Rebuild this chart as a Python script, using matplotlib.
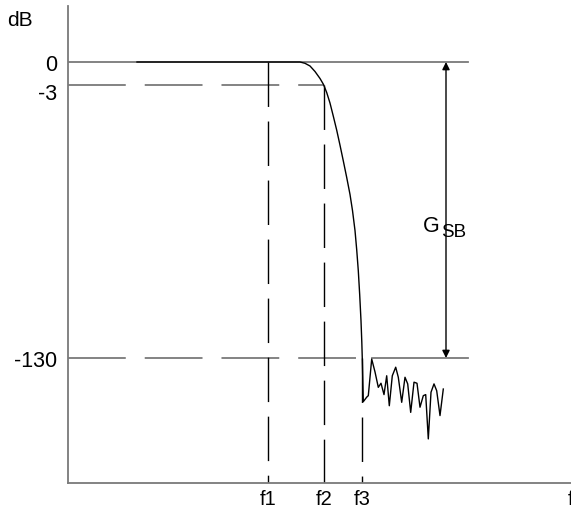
import numpy as np
import matplotlib
matplotlib.use("Agg")
import matplotlib.pyplot as plt
from matplotlib.scale import FuncScale
import matplotlib.transforms as mtransforms

plt.rcParams['font.family'] = ['Liberation Sans', 'DejaVu Sans']

# ---- data (schematic filter response) ----
level_labels = ["0", "-3", "-130"]
levels_db = [0, -3, -130]
freq_labels = ["f1", "f2", "f3", "f"]
f1, f2, f3, f_end = 200, 256, 294.5, 503

# passband -> transition -> stopband (dB)
curve_f = [69, 232, 237, 242, 247, 252, 255.5, 258.7, 262, 265.3, 268.7, 272, 275.3,
           278.7, 282, 284.5, 287, 288.7, 290.3, 291.7, 293, 293.8, 294.3, 294.8, 295.3]
curve_db = [0, 0, -0.17, -0.52, -1.24, -2.15, -2.93, -6.5, -11.4, -17.5, -24.0, -31.0,
            -38.3, -46.0, -53.9, -61.4, -70.7, -79.6, -89.4, -100.6, -112.7, -122.5,
            -130.5, -140.3, -150.4]
# stopband ripple / noise (dB)
noise_f = [298.7, 300.3, 303.7, 307, 310.3, 313, 316, 318.7, 321.3, 324.3, 327.7,
           330.3, 333.7, 337, 339.7, 342.7, 346, 349, 352, 355.3, 357.7, 360.3, 363,
           366, 368.7, 372, 375.3]
noise_db = [-148.3, -147.6, -130.5, -136.5, -143.7, -141.8, -147.1, -138.3, -152.3,
            -138.3, -134.3, -139, -150.7, -139, -142.1, -155.4, -141.3, -141.8, -153,
            -147.6, -147.1, -167.8, -146, -142.1, -145.3, -156.9, -144.5]
gsb_x = 378
ref_end = 400

# ---- nonlinear schematic y-scale (piecewise linear) ----
y_db_bp = [-188.4, -130, -3, 0, 7.3]
y_pos_bp = [0, 125, 398, 421, 477]

def fwd(v):
    return np.interp(v, y_db_bp, y_pos_bp, left=-1e3, right=1e3)

def inv(v):
    return np.interp(v, y_pos_bp, y_db_bp)

W, H = 571, 510
fig = plt.figure(figsize=(W / 100, H / 100), dpi=100)
ax = fig.add_axes([68 / W, 26 / H, (W - 68) / W, (484 - 7) / H])
ax.set_yscale(FuncScale(ax, (fwd, inv)))
ax.set_xlim(0, f_end)
ax.set_ylim(y_db_bp[0], y_db_bp[-1])

gray = '#7a7a7a'
dash = (0, (32, 10.5))

# reference lines
ax.plot([0, ref_end], [0, 0], color=gray, lw=1.3, zorder=1)
ax.plot([0, f2], [-3, -3], color=gray, lw=1.3, linestyle=dash, zorder=1)
ax.plot([0, f3 - 5], [-130, -130], color=gray, lw=1.3, linestyle=dash, zorder=1)
ax.plot([noise_f[2], ref_end], [-130, -130], color=gray, lw=1.3, zorder=1)

# vertical dashed frequency markers (drawn top -> bottom)
ax.plot([f1, f1], [0, y_db_bp[0]], color='black', lw=1.0, linestyle=dash)
ax.plot([f2, f2], [-3, y_db_bp[0]], color='black', lw=1.0, linestyle=dash)
ax.plot([f3, f3], [-130, y_db_bp[0]], color='black', lw=1.0, linestyle=dash)

# response curve
ax.plot(curve_f + noise_f, curve_db + noise_db, color='black', lw=1.0, zorder=3)

# G_SB arrow
ax.annotate('', xy=(gsb_x, 0), xytext=(gsb_x, -130),
            arrowprops=dict(arrowstyle='<|-|>', color='black', lw=1.0,
                            mutation_scale=11, shrinkA=0, shrinkB=0))
fig.text(423 / W, 1 - 232 / H, 'G', fontsize=15.5, ha='left', va='baseline')
fig.text(441 / W, 1 - 237 / H, 'SB', fontsize=13.5, ha='left', va='baseline')

# axes styling
for s in ['top', 'right']:
    ax.spines[s].set_visible(False)
for s in ['left', 'bottom']:
    ax.spines[s].set_color(gray)
    ax.spines[s].set_linewidth(1.3)

ax.set_yticks(levels_db, level_labels)
ax.set_xticks([f1, f2, f3, f_end], freq_labels)
ax.tick_params(axis='y', length=0, labelsize=15.5, pad=8)
ax.tick_params(axis='x', length=0, labelsize=14.5, pad=4)
for lab in ax.get_yticklabels():
    if lab.get_text() == '-3':
        lab.set_transform(lab.get_transform() +
                          mtransforms.ScaledTranslation(0, -6 / 100, fig.dpi_scale_trans))

fig.text(7 / W, 1 - 20 / H, 'dB', fontsize=15, ha='left', va='center')

fig.savefig('out.png', dpi=100)
